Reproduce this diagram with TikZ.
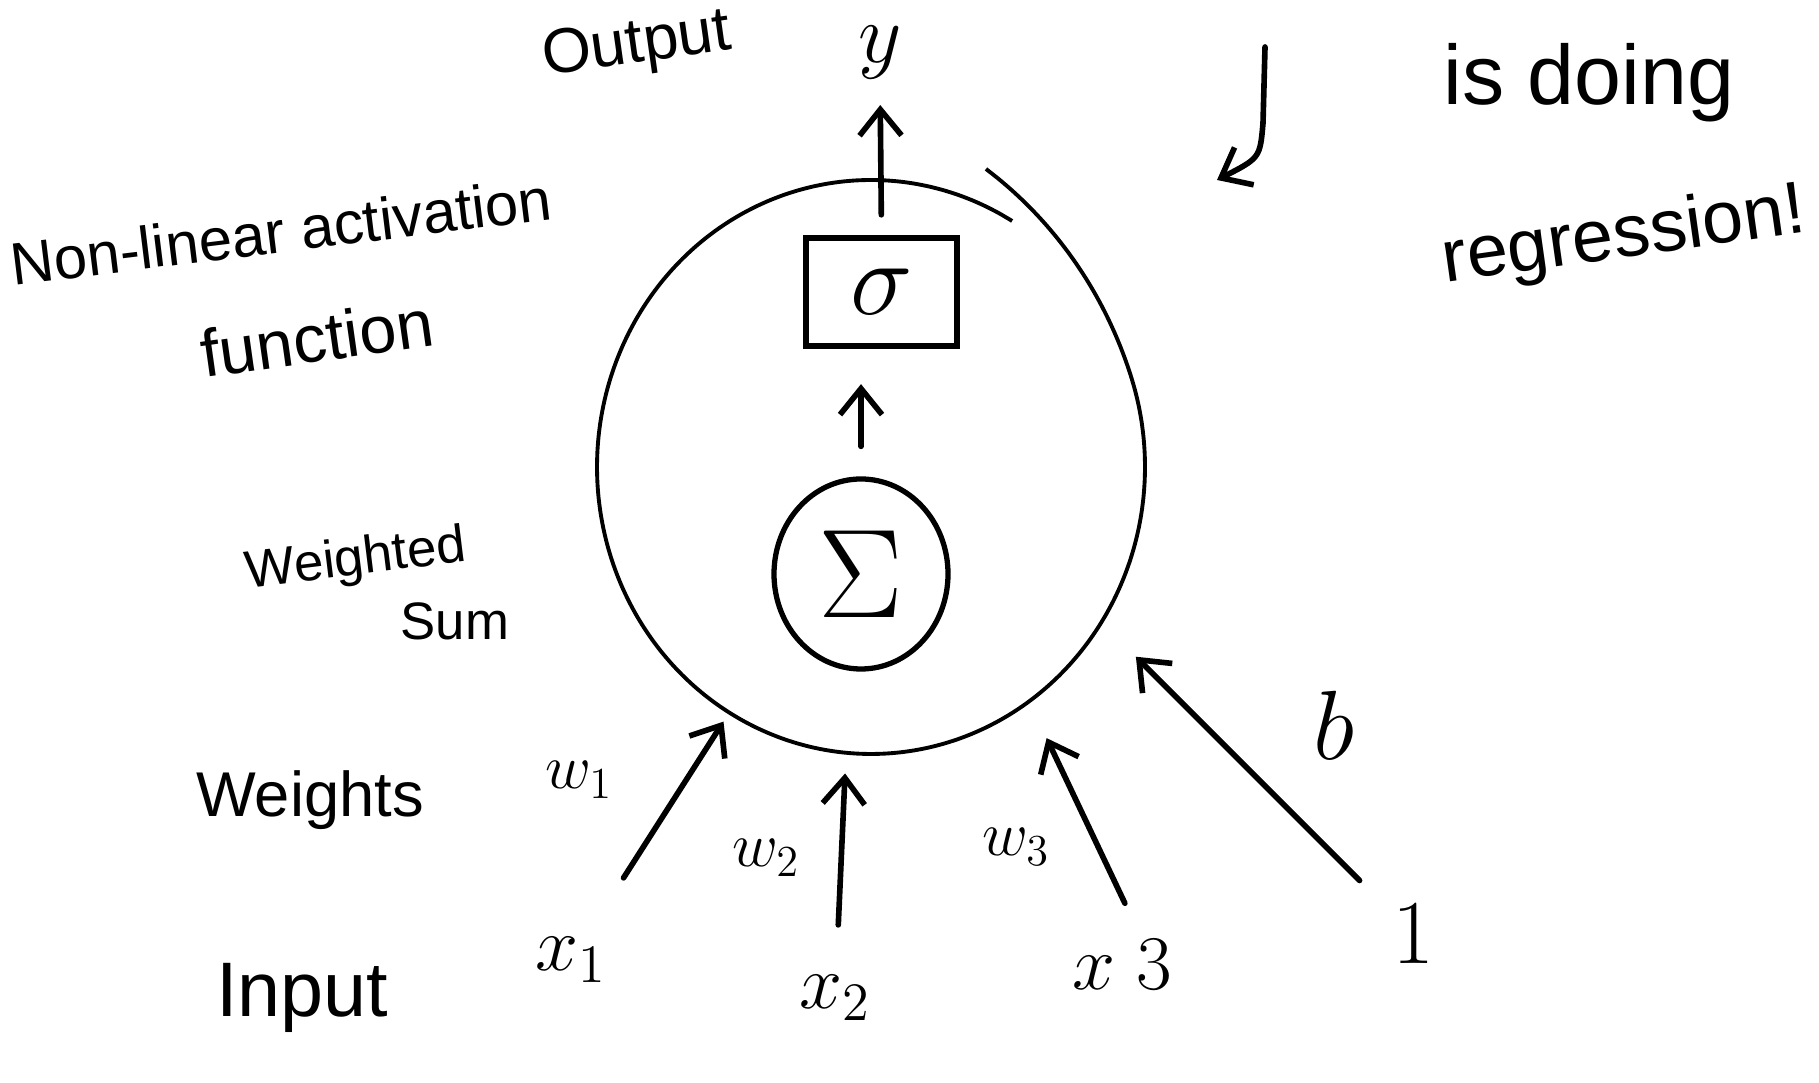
\RequirePackage{fix-cm}
\documentclass[tikz,border=0pt]{standalone}
\usepackage{fontspec}
\setmainfont{Liberation Sans}
\usetikzlibrary{arrows.meta,shapes.geometric,positioning}

\tikzset{
  note/.style={font=\fontsize{#1}{#1}\selectfont, inner sep=0pt},
  note/.default=18,
  arr/.style={-{Straight Barb[length=2.6mm,width=4.2mm]}, line width=1.6pt, line cap=round},
  sumcirc/.style={ellipse, draw, line width=1.5pt, minimum width=1.74cm, minimum height=1.90cm, inner sep=0pt, font=\fontsize{36}{36}\selectfont},
  actbox/.style={rectangle, draw, line width=1.8pt, minimum width=1.51cm, minimum height=1.08cm, inner sep=0pt, font=\fontsize{30}{30}\selectfont},
}

\begin{document}
\begin{tikzpicture}
    \useasboundingbox (0,0) rectangle (18.19,10.83);
    % neuron body
    \node[ellipse, minimum width=5.48cm, minimum height=5.74cm, inner sep=0pt] (neuron) at (8.71,6.16) {};
    \draw[line width=1.1pt, shift={(neuron.center)}]
        plot[smooth, samples=120, domain=68:-301, variable=\t]
        ({2.74*cos(\t)*(1+0.12*(max(0,(\t-18)/50))^2)}, {2.87*sin(\t)*(1+0.12*(max(0,(\t-18)/50))^2)});
    \node[sumcirc] (sumnode) at (8.61,5.09) {$\Sigma$};
    \node[actbox] (sigmabox) at (8.815,7.91) {$\sigma$};
    \node[note=24] (yout) at (8.80,10.30) {$y$};
    \draw[arr, shorten <=3mm, shorten >=3.5mm] (sumnode.north) -- (sumnode.north |- sigmabox.south);
    \draw[arr, shorten <=2mm, shorten >=2.5mm] (sigmabox.north) -- (yout.south);
    % inputs
    \node[note=22] (x1) at (5.71,1.23) {$x_1$};
    \node[note=22] (x2) at (8.35,0.85) {$x_2$};
    \node[note=22] (x3) at (11.22,1.18) {$x\;3$};
    \node[note=26] (one) at (14.13,1.49) {$1$};
    \draw[arr, shorten <=7mm, shorten >=1mm] (x1) -- (neuron.240);
    \draw[arr, shorten <=5mm, shorten >=2mm] (x2) -- (neuron.265);
    \draw[arr, shorten <=4mm, shorten >=4mm] ([xshift=2mm]x3.north) -- (neuron.304);
    \draw[arr, shorten <=4.5mm, shorten >=4.8mm] (one) -- (neuron.326);
    % weights and bias
    \node[note] (w1) at (5.79,3.03) {$w_1$};
    \node[note] (w2) at (7.66,2.25) {$w_2$};
    \node[note] (w3) at (10.16,2.36) {$w_3$};
    \node[note=28] (bias) at (13.34,3.58) {$b$};
    % left notes
    \node[note=17, rotate=7] (actlbl) at (2.81,8.52) {Non-linear activation};
    \node[note=19, rotate=8] (funclbl) at (3.17,7.45) {function};
    \node[note=15, rotate=7] (wsumlbl) at (3.56,5.22) {Weighted};
    \node[note=15] (sumlbl) at (4.55,4.62) {Sum};
    \node[note] (wlbl) at (3.10,2.83) {Weights};
    \node[note=22] (inlbl) at (3.02,0.85) {Input};
    \node[note, rotate=8] (outlbl) at (6.37,10.36) {Output};
    % right notes
    \coordinate (hooktop) at (12.65,10.36);
    \coordinate (hookend) at (12.17,9.03);
    \draw[arr] (hooktop) -- (12.63,9.6) .. controls (12.6,9.25) .. (hookend);
    \node[note=24] (doinglbl) at (15.89,10.0) {is doing};
    \node[note=21, rotate=8] (reglbl) at (16.24,8.45) {regression!};
\end{tikzpicture}
\end{document}
